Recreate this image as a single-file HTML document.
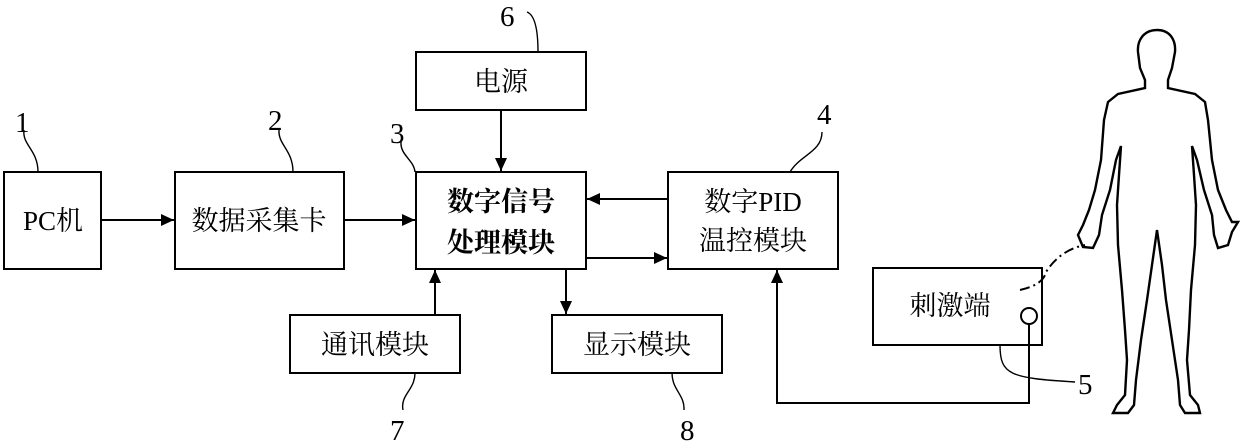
<!DOCTYPE html>
<html><head><meta charset="utf-8"><style>
html,body{margin:0;padding:0;background:#fff;}
svg text{font-family:"Liberation Serif","Noto Serif CJK SC",serif;fill:#000;}
</style></head><body>
<svg width="1240" height="443" viewBox="0 0 1240 443" xmlns="http://www.w3.org/2000/svg">
<defs><marker id="a" markerWidth="14" markerHeight="14" refX="13" refY="6" orient="auto" markerUnits="userSpaceOnUse"><path d="M0,0 L13,6 L0,12 z" fill="#000"/></marker></defs>
<g fill="none" stroke="#000" stroke-width="2">
<rect x="4" y="172" width="97" height="97"/>
<rect x="175" y="172" width="169" height="97"/>
<rect x="416" y="172" width="170" height="97"/>
<rect x="416" y="52" width="170" height="58"/>
<rect x="290" y="315" width="170" height="58"/>
<rect x="552" y="315" width="170" height="58"/>
<rect x="668" y="172" width="170" height="97"/>
<rect x="873" y="268" width="169" height="77"/>
<circle cx="1029" cy="316" r="8"/>
<line x1="101" y1="220" x2="174" y2="220" marker-end="url(#a)"/>
<line x1="344" y1="220" x2="415" y2="220" marker-end="url(#a)"/>
<line x1="501" y1="110" x2="501" y2="171" marker-end="url(#a)"/>
<line x1="668" y1="199" x2="587" y2="199" marker-end="url(#a)"/>
<line x1="586" y1="258" x2="667" y2="258" marker-end="url(#a)"/>
<line x1="566" y1="269" x2="566" y2="314" marker-end="url(#a)"/>
<line x1="435" y1="315" x2="435" y2="270" marker-end="url(#a)"/>
<polyline points="1029,324 1029,403 777,403 777,270" marker-end="url(#a)"/>
<g stroke-width="1.4">
<path d="M24,130 C22,145 38,150 38,172"/>
<path d="M279,130 C278,145 293,150 293,172"/>
<path d="M401,142 C400,155 414,160 415,172"/>
<path d="M527,12 C535,15 538,30 538,52"/>
<path d="M822,132 C822,152 800,155 790,172"/>
<path d="M403,410 C400,395 415,390 415,373"/>
<path d="M684,410 C685,395 672,390 672,373"/>
<path d="M1000,345 C1000,375 1010,378 1075,382"/>
<path d="M1020,290 Q1043,285 1046,272 Q1060,250 1085,245" stroke-dasharray="10,4,2,4" stroke-width="2"/>
</g>
<path stroke-width="2.4" d="M1157,30 C1170,30 1176,40 1175,52 L1172,68 L1168,80 L1168,88 L1195,94 L1205,102 L1208,120 L1212,160 L1218,190 L1226,210 L1232,222 L1238,222 L1232,232 L1228,245 L1218,248 L1214,235 L1212,215 L1204,190 L1197,160 L1192,146 L1194,175 L1196,205 L1195,245 L1191,290 L1189,330 L1187,360 L1190,395 L1198,405 L1200,413 L1185,413 L1180,405 L1178,380 L1172,340 L1166,300 L1162,265 L1157,230 L1152,265 L1147,300 L1141,340 L1136,380 L1134,405 L1128,413 L1113,413 L1117,405 L1125,395 L1127,360 L1125,330 L1122,290 L1118,245 L1117,205 L1119,175 L1121,146 L1116,160 L1110,190 L1102,215 L1099,235 L1093,248 L1083,247 L1078,235 L1083,225 L1089,210 L1095,190 L1101,160 L1104,120 L1108,102 L1118,94 L1145,88 L1145,80 L1140,68 L1138,52 C1137,40 1144,30 1157,30 z"/>
</g>
<g font-size="29">
<text x="15" y="132">1</text>
<text x="268" y="130">2</text>
<text x="390" y="143">3</text>
<text x="500" y="26">6</text>
<text x="817" y="124">4</text>
<text x="390" y="440">7</text>
<text x="680" y="440">8</text>
<text x="1078" y="394">5</text>
</g>
<g font-size="27" text-anchor="middle">
<text x="53" y="230">PC机</text>
<text x="259" y="230">数据采集卡</text>
<text x="501" y="91">电源</text>
<text x="375" y="354">通讯模块</text>
<text x="637" y="354">显示模块</text>
<text x="753" y="211">数字PID</text>
<text x="753" y="250">温控模块</text>
<text x="950" y="315">刺激端</text>
<g style="font-family:'Liberation Sans','Noto Sans CJK SC',sans-serif;font-weight:bold">
<text x="501" y="211">数字信号</text>
<text x="501" y="252">处理模块</text>
</g></g>
</svg>
</body></html>
